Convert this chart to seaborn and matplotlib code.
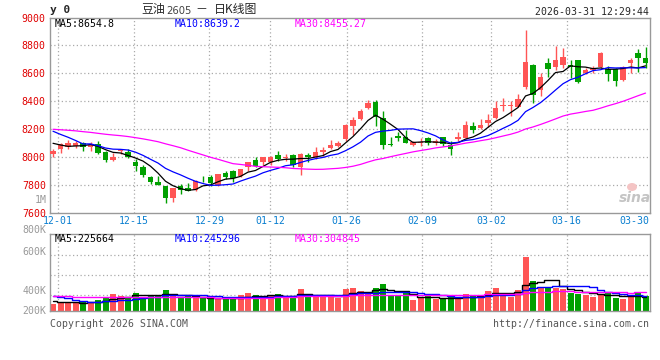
import numpy as np
import pandas as pd
import matplotlib
matplotlib.use("Agg")
import matplotlib.pyplot as plt
import seaborn as sns
from matplotlib.patches import Ellipse

sns.set_style("white")
plt.rcParams['font.family'] = ['DejaVu Sans Mono', 'Noto Sans CJK SC']

# ---------------- data ----------------
open_ = [8023, 8058, 8070, 8077, 8099, 8075, 8094, 8034, 7982, 8043,
         8034, 7968, 7927, 7855, 7824, 7791, 7707, 7791, 7779, 7767,
         7842, 7855, 7803, 7886, 7898, 7862, 7932, 7980, 7968, 7968,
         8015, 7991, 8015, 7932, 8015, 7999, 8039, 8063, 8077, 8127,
         8225, 8273, 8349, 8392, 8278, 8091, 8150, 8142, 8090, 8100,
         8138, 8102, 8142, 8090, 8131, 8135, 8221, 8206, 8244, 8280,
         8366, 8363, 8361, 8503, 8658, 8482, 8672, 8646, 8658, 8660,
         8693, 8601, 8624, 8646, 8634, 8629, 8553, 8677, 8748, 8712]
high = [8058, 8101, 8123, 8118, 8111, 8106, 8113, 8042, 8027, 8058,
        8058, 7987, 7944, 7867, 7867, 7791, 7781, 7808, 7812, 7836,
        7867, 7872, 7879, 7903, 7908, 7915, 7963, 8003, 7999, 8011,
        8046, 8023, 8023, 8027, 8027, 8070, 8070, 8123, 8118, 8240,
        8285, 8344, 8408, 8408, 8328, 8147, 8178, 8195, 8119, 8140,
        8147, 8131, 8142, 8119, 8178, 8261, 8249, 8273, 8309, 8399,
        8423, 8404, 8451, 8914, 8669, 8605, 8712, 8795, 8783, 8693,
        8693, 8641, 8653, 8753, 8653, 8641, 8653, 8712, 8776, 8788]
low = [7999, 8027, 8058, 8066, 8042, 8046, 8023, 7968, 7970, 8023,
       7991, 7903, 7855, 7808, 7798, 7671, 7681, 7736, 7755, 7760,
       7819, 7796, 7796, 7843, 7824, 7855, 7898, 7927, 7944, 7944,
       7975, 7975, 7927, 7872, 7963, 7987, 8011, 8058, 8070, 8115,
       8161, 8266, 8344, 8225, 8055, 8078, 8119, 8100, 8078, 8080,
       8090, 8090, 8083, 8012, 8119, 8131, 8173, 8202, 8214, 8273,
       8328, 8297, 8356, 8487, 8387, 8439, 8577, 8624, 8641, 8570,
       8534, 8593, 8605, 8641, 8546, 8510, 8546, 8605, 8610, 8641]
close = [8046, 8094, 8101, 8099, 8070, 8087, 8030, 7982, 8003, 8046,
         7999, 7939, 7872, 7819, 7800, 7707, 7779, 7767, 7760, 7827,
         7840, 7812, 7879, 7855, 7851, 7915, 7963, 7939, 7999, 7999,
         7987, 7999, 7944, 8023, 7999, 8039, 8051, 8087, 8099, 8233,
         8268, 8328, 8387, 8285, 8090, 8089, 8138, 8102, 8107, 8106,
         8102, 8119, 8095, 8059, 8142, 8230, 8197, 8230, 8268, 8351,
         8370, 8373, 8415, 8681, 8444, 8574, 8634, 8696, 8719, 8646,
         8541, 8622, 8641, 8743, 8598, 8546, 8646, 8693, 8712, 8672]
volume = [112000, 139000, 139000, 139000, 139000, 133000, 176000, 219000, 272000, 240000,
          230000, 288000, 230000, 256000, 256000, 336000, 256000, 203000, 240000, 203000,
          213000, 203000, 203000, 192000, 192000, 256000, 288000, 256000, 203000, 256000,
          272000, 240000, 240000, 352000, 219000, 240000, 240000, 256000, 213000, 352000,
          373000, 320000, 283000, 373000, 432000, 240000, 240000, 293000, 176000, 203000,
          240000, 192000, 203000, 240000, 203000, 272000, 240000, 240000, 320000, 373000,
          293000, 230000, 336000, 869000, 480000, 389000, 389000, 363000, 352000, 293000,
          272000, 256000, 230000, 272000, 283000, 205000, 185000, 222000, 283000, 233000]
# closes / volumes before the window, inferred from where the MA lines start
prior_close = [8195, 8210, 8225, 8245, 8240, 8235, 8180, 8165, 8190, 8185,
               8180, 8130, 8115, 8115, 8160, 8185, 8200, 8300, 8335, 8340,
               8320, 8305, 8330, 8320, 8085, 8155, 8150, 8085, 8060]
prior_volume = [230000, 250000, 240000, 260000, 235000, 225000, 250000, 245000, 240000, 230000,
                260000, 240000, 235000, 250000, 245000, 240000, 235000, 245000, 250000, 245000,
                320000, 300000, 330000, 290000, 310000, 180000, 170000, 165000, 173000]

date_labels = ["12-01", "12-15", "12-29", "01-12", "01-26", "02-09", "03-02", "03-16", "03-30"]
date_pos = [0.6, 10.75, 20.85, 28.95, 39.15, 49.25, 58.4, 68.5, 77.5]
price_ticks = [7600, 7800, 8000, 8200, 8400, 8600, 8800, 9000]
price_ma_labels = ["MA5:8654.8", "MA10:8639.2", "MA30:8455.27"]
vol_ma_labels = ["MA5:225664", "MA10:245296", "MA30:304845"]
vol_tick_labels = ["800K", "600K", "400K", "200K"]
vol_tick_frac = [1.052, 0.766, 0.26, 0.0]
vol_grid_frac = [0.208, 0.4675, 0.727]

# ---------------- derived ----------------
n = len(close)
df = pd.DataFrame({"i": np.arange(n), "open": open_, "high": high, "low": low,
                   "close": close, "vol": volume})
df["dir"] = np.where(df["close"] >= df["open"], "up", "down")
full_c = pd.Series(prior_close + close, dtype=float)
full_v = pd.Series(prior_volume + volume, dtype=float)
for w in (5, 10, 30):
    df[f"ma{w}"] = full_c.rolling(w).mean().iloc[-n:].to_numpy()
    df[f"vma{w}"] = full_v.rolling(w).mean().iloc[-n:].to_numpy()

RED = "#FF5555"
GREEN = "#00A000"
MA_COLORS = ["#000000", "#0000FF", "#FF00FF"]
GRID = "#AAAAAA"
cols = df["dir"].map({"up": RED, "down": GREEN}).tolist()

W, H = 660, 360
def fx(px):
    return px / W
def fy(py):
    return 1 - py / H

fig = plt.figure(figsize=(6.6, 3.6), dpi=100)
ax1 = fig.add_axes([fx(50), fy(213), (649.5 - 50) / W, (213 - 17.5) / H])
ax2 = fig.add_axes([fx(50), fy(311), (649.5 - 50) / W, (311 - 234) / H])

# candles
body_lo = np.minimum(df["open"], df["close"])
body_h = np.maximum(np.abs(df["close"] - df["open"]), 5)
ax1.vlines(df["i"], df["low"], df["high"], colors=cols, lw=1, zorder=2)
ax1.bar(df["i"], body_h, bottom=body_lo, width=0.72, color=cols, linewidth=0, zorder=3)
for w, c in zip((5, 10, 30), MA_COLORS):
    sns.lineplot(data=df, x="i", y=f"ma{w}", color=c, lw=0.9, ax=ax1, zorder=4, legend=False)

# volume
sns.barplot(data=df, x="i", y="vol", hue="dir", palette={"up": RED, "down": GREEN},
            dodge=False, width=0.8, saturation=1, errorbar=None, legend=False,
            ax=ax2, zorder=2, linewidth=0)
for w, c in zip((5, 10, 30), MA_COLORS):
    sns.lineplot(data=df, x="i", y=f"vma{w}", color=c, lw=1.0, ax=ax2, zorder=4,
                 legend=False, drawstyle="steps-mid")

vol_top = 1.232e6
for ax in (ax1, ax2):
    ax.set_xlim(-0.4, 79.53)
    ax.set_xlabel("")
    ax.set_ylabel("")
    for s in ax.spines.values():
        s.set_color("#999999")
        s.set_linewidth(1)
    for p in date_pos[:-1]:
        ax.axvline(p, color=GRID, lw=0.9, ls=(0, (1, 2)), zorder=1)

ax1.set_ylim(price_ticks[0], price_ticks[-1])
for v in price_ticks[1:-1]:
    ax1.axhline(v, color=GRID, lw=0.9, ls=(0, (1, 2)), zorder=1)
ax1.set_yticks(price_ticks)
ax1.set_yticklabels([str(v) for v in price_ticks])
ax1.tick_params(axis="y", length=0, pad=3, labelsize=7.1, labelcolor="#E00000")
ax1.set_xticks(date_pos)
ax1.set_xticklabels(date_labels)
ax1.tick_params(axis="x", length=0, pad=2, labelsize=7.1, labelcolor="#0A7FD0")

ax2.set_ylim(0, vol_top)
for f in vol_grid_frac:
    ax2.axhline(f * vol_top, color=GRID, lw=0.9, ls=(0, (1, 2)), zorder=1)
ax2.set_xticks([])
ax2.set_yticks([])

# ---------------- texts ----------------
FS = 7.1
fig.text(fx(50), fy(10), "y 0", fontsize=8, weight="bold", va="center")
fig.text(fx(141), fy(10), "豆油", family=["Noto Sans CJK SC"], fontsize=8.6, va="center")
fig.text(fx(166), fy(10.5), "2605", family=["DejaVu Sans"], fontsize=7.2, color="#444444", va="center")
fig.text(fx(195), fy(10), "－", family=["Noto Sans CJK SC"], fontsize=8.6, va="center")
fig.text(fx(214), fy(10), "日K线图", family=["Noto Sans CJK SC"], fontsize=8.6, va="center")
fig.text(fx(649), fy(12), "2026-03-31 12:29:44", fontsize=FS, ha="right", va="center")

for lab, c, x in zip(price_ma_labels, MA_COLORS, (55, 175, 295)):
    fig.text(fx(x), fy(24), lab, color=c, fontsize=FS, va="center")
for lab, c, x in zip(vol_ma_labels, MA_COLORS, (55, 175, 295)):
    fig.text(fx(x), fy(239.5), lab, color=c, fontsize=FS, va="center")

fig.text(fx(46.5), fy(200), "1M", color="#999999", fontsize=FS, ha="right", va="center")
for lab, f in zip(vol_tick_labels, vol_tick_frac):
    fig.text(fx(46.5), fy(311 - f * 77), lab, color="#999999", fontsize=FS, ha="right", va="center")

fig.text(fx(50), fy(324), "Copyright 2026 SINA.COM", color="#555555", fontsize=FS, va="center")
fig.text(fx(649), fy(324), "http://finance.sina.com.cn", color="#555555", fontsize=FS,
         ha="right", va="center")

# sina watermark
fig.patches.append(Ellipse((fx(632), fy(187)), 10 / W, 8 / H, transform=fig.transFigure,
                           facecolor="#F4C4C4", edgecolor="none", zorder=5))
fig.text(fx(635), fy(198), "sina", family=["DejaVu Sans"], style="italic", weight="bold",
         color="#C4C4C4", fontsize=10, ha="center", va="center", zorder=6)

fig.savefig("out.png", dpi=100)
